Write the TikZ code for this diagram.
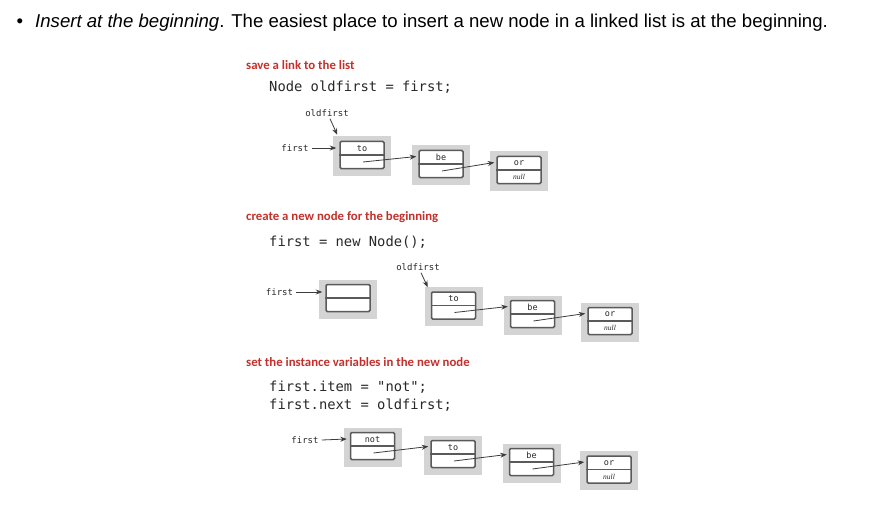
\documentclass[tikz,border=0pt]{standalone}
\usepackage{fontspec}
\setmainfont{Liberation Sans}
\newfontfamily\titlefont{Carlito}
\newfontfamily\codefont{DejaVu Sans Mono}
\newfontfamily\lblfont{DejaVu Sans Mono}
\newfontfamily\serfont{Liberation Serif}
\usetikzlibrary{arrows.meta,calc}
\definecolor{titlered}{RGB}{196,48,43}
\definecolor{backgray}{RGB}{212,212,212}
\definecolor{cellgray}{RGB}{90,90,90}
\definecolor{linkgray}{RGB}{60,60,60}
\definecolor{codegray}{RGB}{40,40,40}
\tikzset{
  grayback/.style={fill=backgray,draw=none,minimum width=58pt,minimum height=39pt,inner sep=0pt},
  cellbox/.style={fill=white,draw=cellgray,line width=1.5pt,rounded corners=1.2pt,minimum width=44pt,minimum height=27pt,inner sep=0pt},
  cellline/.style={draw=cellgray,line width=1.5pt},
  itemtxt/.style={font=\lblfont\fontsize{8.5}{9}\selectfont,text=codegray,inner sep=0pt},
  nulltxt/.style={font=\serfont\itshape\fontsize{7.5}{8}\selectfont,text=codegray,inner sep=0pt},
  lbl/.style={font=\lblfont\fontsize{9}{10}\selectfont,text=codegray,inner sep=0pt},
  link/.style={draw=linkgray,line width=0.8pt,-{Stealth[length=6.5pt,width=5pt]}},
  titletxt/.style={font=\titlefont\bfseries\fontsize{12.8}{14}\selectfont,text=titlered,anchor=west,inner sep=0pt},
  codetxt/.style={font=\codefont\fontsize{13.8}{18}\selectfont,text=codegray,anchor=west,inner sep=0pt,align=left},
}
\newcommand\mklnode[4]{%
  \node[grayback] (#1g) at (#2,#3+1) {};
  \node[cellbox] (#1) at (#2,#3) {};
  \draw[cellline] (#1.west) -- (#1.east);
  \node[itemtxt] (#1i) at ($(#1.center)+(0,-6.5)$) {#4};
}
\begin{document}
\begin{tikzpicture}[x=1pt,y=-1pt]
\useasboundingbox (0,0) rectangle (878,516);
% header
\node[inner sep=0pt,font=\fontsize{18.6}{20}\selectfont] (bullet) at (20,23) {\textbullet};
\node[anchor=west,inner sep=0pt,font=\fontsize{18.6}{20}\selectfont] (head) at (35,23)
  {\textit{Insert at the beginning}. The easiest place to insert a new node in a linked list is at the beginning.};

% section 1
\node[titletxt] (t1) at (246,65) {save a link to the list};
\node[codetxt] (c1) at (269,87) {Node oldfirst = first;};
\mklnode{a1}{362}{155}{to}
\mklnode{a2}{441}{164}{be}
\mklnode{a3}{519}{170}{or}
\node[nulltxt] (a3n) at ($(a3.center)+(0,7)$) {null};
\node[lbl] (a1old) at (327,113) {oldfirst};
\node[lbl] (a1first) at (295,148) {first};
\draw[link] ($(a1old.south)+(3,2)$) -- ($(a1.north west)+(-2,-6)$);
\draw[link] (a1first.east)+(3,0) -- ($(a1.west)+(-3,-7)$);
\draw[link] ($(a1.center)+(1,7)$) -- ($(a2.west)+(-2,-7.5)$);
\draw[link] ($(a2.center)+(1,7)$) -- ($(a3.west)+(-2,-7.5)$);

% section 2
\node[titletxt] (t2) at (246,217) {create a new node for the beginning};
\node[codetxt] (c2) at (269,242) {first = new Node();};
\mklnode{b0}{348}{298}{}
\mklnode{b1}{453.5}{305.5}{to}
\mklnode{b2}{532.5}{314}{be}
\mklnode{b3}{610}{321}{or}
\node[nulltxt] (b3n) at ($(b3.center)+(0,7)$) {null};
\node[lbl] (b1old) at (418,267) {oldfirst};
\node[lbl] (b0first) at (279.5,292) {first};
\draw[link] ($(b1old.south)+(3,2)$) -- ($(b1.north west)+(-3,-4)$);
\draw[link] (b0first.east)+(3,0) -- ($(b0.west)+(-3,-6)$);
\draw[link] ($(b1.center)+(1,7)$) -- ($(b2.west)+(-2,-7.5)$);
\draw[link] ($(b2.center)+(1,7)$) -- ($(b3.west)+(-2,-7.5)$);

% section 3
\node[titletxt] (t3) at (246,362) {set the instance variables in the new node};
\node[codetxt] (c3) at (269,387) {first.item = "not";};
\node[codetxt] (c4) at (269,405) {first.next = oldfirst;};
\mklnode{d0}{372.5}{446}{not}
\mklnode{d1}{453}{454}{to}
\mklnode{d2}{531.5}{462}{be}
\mklnode{d3}{609}{469.5}{or}
\node[nulltxt] (d3n) at ($(d3.center)+(0,7)$) {null};
\node[lbl] (d0first) at (305,440) {first};
\draw[link] (d0first.east)+(3,0) -- ($(d0.west)+(-3,-7)$);
\draw[link] ($(d0.center)+(1,7)$) -- ($(d1.west)+(-2,-7.5)$);
\draw[link] ($(d1.center)+(1,7)$) -- ($(d2.west)+(-2,-7.5)$);
\draw[link] ($(d2.center)+(1,7)$) -- ($(d3.west)+(-2,-7.5)$);
\end{tikzpicture}
\end{document}
